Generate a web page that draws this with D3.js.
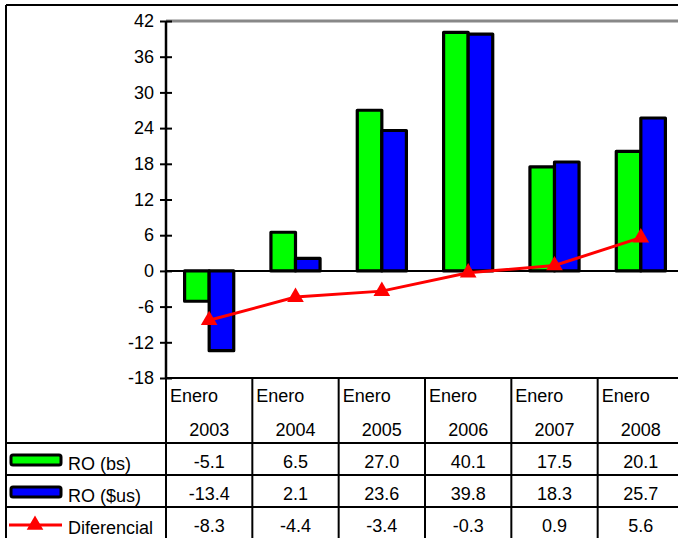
<!DOCTYPE html>
<html>
<head>
<meta charset="utf-8">
<script src="https://cdn.jsdelivr.net/npm/d3@7/dist/d3.min.js"></script>
<style>
  html, body { margin: 0; padding: 0; background: #fff; overflow: hidden; }
  svg { display: block; font-family: "Liberation Sans", Arial, sans-serif; }
</style>
</head>
<body>
<svg id="chart" width="678" height="538"></svg>
<script>
const months = ["Enero", "Enero", "Enero", "Enero", "Enero", "Enero"];
const years = ["2003", "2004", "2005", "2006", "2007", "2008"];
const roBs = [-5.1, 6.5, 27.0, 40.1, 17.5, 20.1];
const roUs = [-13.4, 2.1, 23.6, 39.8, 18.3, 25.7];
const diferencial = [-8.3, -4.4, -3.4, -0.3, 0.9, 5.6];
const yTicks = [-18, -12, -6, 0, 6, 12, 18, 24, 30, 36, 42];
const seriesNames = ["RO (bs)", "RO ($us)", "Diferencial"];

(function () {
const svg = d3.select("#chart");
const FS = 18;
const pLeft = 166, pRight = 684, pTop = 21, pBottom = 378;

const x = d3.scaleBand().domain(years).range([pLeft, pRight]).paddingInner(0).paddingOuter(0);
const bw = x.bandwidth();
const barPad = 18.6;
const x1 = d3.scaleBand().domain(["bs", "us"]).range([barPad, bw - barPad]);
const y = d3.scaleLinear().domain([-18, 42]).range([pBottom, pTop]);

// outer border
svg.append("line").attr("x1", 6).attr("x2", 678).attr("y1", 5).attr("y2", 5)
  .attr("stroke", "#000").attr("stroke-width", 2);
svg.append("line").attr("x1", 6).attr("x2", 6).attr("y1", 5).attr("y2", 540)
  .attr("stroke", "#000").attr("stroke-width", 2);

// top gray line
svg.append("line").attr("x1", pLeft).attr("x2", pRight).attr("y1", y(42)).attr("y2", y(42))
  .attr("stroke", "#888").attr("stroke-width", 3);

// bars
const data = years.map((yr, i) => ({ yr, bs: roBs[i], us: roUs[i], d: diferencial[i] }));
const colors = { bs: "#00ff00", us: "#0000ff" };
["bs", "us"].forEach(k => {
  svg.append("g").selectAll("rect").data(data).join("rect")
    .attr("x", d => x(d.yr) + x1(k))
    .attr("width", x1.bandwidth())
    .attr("y", d => y(Math.max(0, d[k])))
    .attr("height", d => Math.abs(y(d[k]) - y(0)))
    .attr("fill", colors[k])
    .attr("stroke", "#000").attr("stroke-width", 3.2)
    .attr("stroke-linejoin", "round");
});

// zero line
svg.append("line").attr("x1", pLeft).attr("x2", pRight).attr("y1", y(0)).attr("y2", y(0))
  .attr("stroke", "#000").attr("stroke-width", 2);

// y axis
const yAxis = svg.append("g").attr("transform", `translate(${pLeft},0)`)
  .call(d3.axisLeft(y).tickValues(yTicks).tickSize(6).tickPadding(6).tickFormat(d => String(d)));
yAxis.select(".domain").attr("stroke", "#000").attr("stroke-width", 2.5)
  .attr("d", `M0,${y(42)}V${y(-18)}`);
yAxis.selectAll(".tick line").attr("x1", -6).attr("x2", 6).attr("stroke", "#000").attr("stroke-width", 2);
yAxis.selectAll(".tick text").attr("font-size", FS).attr("fill", "#000")
  .attr("font-family", "Liberation Sans, Arial, sans-serif");

// line series
const line = d3.line().x(d => x(d.yr) + bw / 2).y(d => y(d.d));
svg.append("path").datum(data).attr("d", line).attr("fill", "none")
  .attr("stroke", "#ff0000").attr("stroke-width", 3);
const tri = d3.symbol().type(d3.symbolTriangle).size(120);
svg.append("g").selectAll("path").data(data).join("path")
  .attr("d", tri)
  .attr("transform", d => `translate(${x(d.yr) + bw / 2},${y(d.d)})`)
  .attr("fill", "#ff0000");

// data table
const tbl = svg.append("g").attr("stroke", "#000").attr("stroke-width", 2);
tbl.append("line").attr("x1", pLeft).attr("x2", pRight).attr("y1", pBottom).attr("y2", pBottom);
[443, 475, 507].forEach(yy => tbl.append("line").attr("x1", 6).attr("x2", pRight).attr("y1", yy).attr("y2", yy));
years.forEach(yr => tbl.append("line").attr("x1", x(yr)).attr("x2", x(yr)).attr("y1", pBottom).attr("y2", 540));

// header text
const hdr = svg.append("g").attr("font-size", FS).attr("fill", "#000");
hdr.selectAll("text.m").data(years).join("text").attr("class", "m")
  .attr("x", d => x(d) + 4).attr("y", 402).text((d, i) => months[i]);
hdr.selectAll("text.yr").data(years).join("text").attr("class", "yr")
  .attr("x", d => x(d) + bw / 2).attr("y", 436).attr("text-anchor", "middle").text(d => d);

// values
const rowVals = [roBs, roUs, diferencial];
const rowBase = [468, 500, 532];
rowVals.forEach((vals, r) => {
  svg.append("g").attr("font-size", FS).attr("fill", "#000").selectAll("text").data(vals).join("text")
    .attr("x", (d, i) => x(years[i]) + bw / 2).attr("y", rowBase[r])
    .attr("text-anchor", "middle").text(d => d.toFixed(1));
});

// legend keys
const leg = svg.append("g");
leg.append("rect").attr("x", 11).attr("y", 455).attr("width", 50).attr("height", 10).attr("rx", 2)
  .attr("fill", colors.bs).attr("stroke", "#000").attr("stroke-width", 3);
leg.append("rect").attr("x", 11).attr("y", 487).attr("width", 50).attr("height", 10).attr("rx", 2)
  .attr("fill", colors.us).attr("stroke", "#000").attr("stroke-width", 3);
leg.append("line").attr("x1", 9).attr("x2", 62).attr("y1", 525).attr("y2", 525)
  .attr("stroke", "#ff0000").attr("stroke-width", 3);
leg.append("path").attr("d", tri).attr("transform", "translate(35,525)").attr("fill", "#ff0000");
seriesNames.forEach((n, i) => {
  leg.append("text").attr("x", 68).attr("y", rowBase[i] + 2).attr("font-size", FS).attr("fill", "#000").text(n);
});
})();
</script>
</body>
</html>
